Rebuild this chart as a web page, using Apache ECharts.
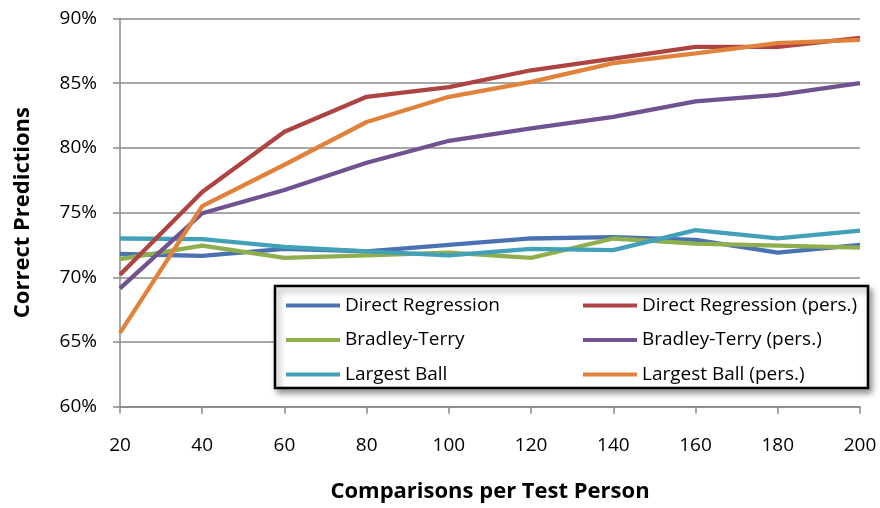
<!DOCTYPE html>
<html>
<head>
<meta charset="utf-8">
<script src="https://cdn.jsdelivr.net/npm/echarts@6/dist/echarts.min.js"></script>
<style>html,body{margin:0;padding:0;background:#fff}#c{width:880px;height:508px}</style>
</head>
<body>
<div id="c"></div>
<script>
var categories = ['20','40','60','80','100','120','140','160','180','200'];
var directRegression     = [71.8, 71.65, 72.2, 72.0, 72.5, 73.0, 73.1, 72.9, 71.9, 72.5];
var bradleyTerry         = [71.4, 72.45, 71.5, 71.7, 71.9, 71.5, 73.0, 72.6, 72.45, 72.3];
var largestBall          = [73.0, 72.95, 72.35, 72.0, 71.7, 72.2, 72.1, 73.65, 73.0, 73.6];
var directRegressionPers = [70.2, 76.6, 81.25, 83.95, 84.7, 86.0, 86.9, 87.8, 87.8, 88.5];
var bradleyTerryPers     = [69.15, 74.95, 76.75, 78.85, 80.55, 81.5, 82.4, 83.6, 84.1, 85.0];
var largestBallPers      = [65.7, 75.5, 78.7, 82.0, 83.95, 85.1, 86.55, 87.3, 88.1, 88.35];

var FONT = 'Open Sans';
var seriesDefs = [
  ['Direct Regression', directRegression, '#4a72b0'],
  ['Bradley-Terry', bradleyTerry, '#8fae4e'],
  ['Largest Ball', largestBall, '#42a0b9'],
  ['Direct Regression (pers.)', directRegressionPers, '#ad4442'],
  ['Bradley-Terry (pers.)', bradleyTerryPers, '#705291'],
  ['Largest Ball (pers.)', largestBallPers, '#e0823b']
];
var series = seriesDefs.map(function(d){
  return {
    name: d[0], type: 'line', data: d[1], symbol: 'none',
    lineStyle: {width: 4.3, color: d[2]}, itemStyle: {color: d[2]},
    emphasis: {disabled: true}, animation: false
  };
});
function legendCfg(names, left) {
  return {
    z: 20, orient: 'vertical', left: left, top: 295.5, itemWidth: 54, itemHeight: 4,
    itemGap: 14.5, icon: 'rect', selectedMode: false, padding: 0,
    data: names.map(function(n){ return {name: n, icon: 'rect'}; }),
    textStyle: {fontFamily: FONT, fontSize: 19, color: '#000', lineHeight: 20}
  };
}
var chart = echarts.init(document.getElementById('c'), null, {renderer: 'canvas'});
chart.setOption({
  animation: false,
  backgroundColor: '#fff',
  grid: {left: 120, right: 20, top: 18.5, bottom: 101.3, containLabel: false, outerBoundsMode: 'none'},
  xAxis: {
    type: 'category', data: categories, boundaryGap: false,
    name: 'Comparisons per Test Person', nameLocation: 'middle', nameGap: 74,
    nameTextStyle: {fontFamily: FONT, fontSize: 22, fontWeight: 'bold', color: '#000'},
    axisLine: {lineStyle: {color: '#888', width: 1.5}},
    axisTick: {show: true, alignWithLabel: true, length: 7, lineStyle: {color: '#888', width: 1.5}},
    axisLabel: {fontFamily: FONT, fontSize: 19, color: '#000', margin: 29}
  },
  yAxis: {
    type: 'value', min: 60, max: 90, interval: 5,
    name: 'Correct Predictions', nameLocation: 'middle', nameRotate: 90, nameGap: 86,
    nameTextStyle: {fontFamily: FONT, fontSize: 22, fontWeight: 'bold', color: '#000'},
    axisLine: {show: true, lineStyle: {color: '#888', width: 1.5}},
    axisTick: {show: true, length: 7, lineStyle: {color: '#888', width: 1.5}},
    axisLabel: {fontFamily: FONT, fontSize: 19, color: '#000', margin: 23, formatter: '{value}%'},
    splitLine: {show: true, lineStyle: {color: '#888', width: 1.5}}
  },
  legend: [
    legendCfg(['Direct Regression','Bradley-Terry','Largest Ball'], 286),
    legendCfg(['Direct Regression (pers.)','Bradley-Terry (pers.)','Largest Ball (pers.)'], 583)
  ],
  graphic: [{
    type: 'rect', z: 10,
    shape: {x: 275, y: 286, width: 593, height: 102},
    style: {fill: '#fff', stroke: '#000', lineWidth: 2.5, shadowBlur: 6, shadowOffsetX: 3, shadowOffsetY: 4, shadowColor: 'rgba(0,0,0,0.4)'}
  }],
  series: series
});
</script>
</body>
</html>
